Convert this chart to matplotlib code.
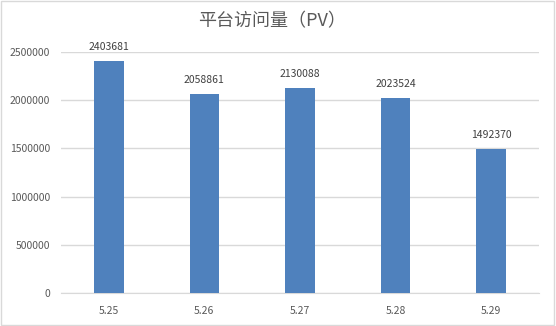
import matplotlib
matplotlib.use("Agg")
import matplotlib.pyplot as plt
from matplotlib.patches import Rectangle

plt.rcParams['font.family'] = ['Noto Sans CJK SC', 'DejaVu Sans']

categories = ["5.25", "5.26", "5.27", "5.28", "5.29"]
values = [2403681, 2058861, 2130088, 2023524, 1492370]
yticks = [0, 500000, 1000000, 1500000, 2000000, 2500000]
title = "平台访问量（PV）"

fig = plt.figure(figsize=(5.56, 3.26), dpi=100)
fig.patch.set_facecolor("white")
fig.add_artist(Rectangle((0.002, 0.003), 0.995, 0.994, transform=fig.transFigure,
                         fill=False, edgecolor="#D9D9D9", linewidth=1.0))

ax = fig.add_axes([61 / 556, 0.101, 478 / 556, 0.740])
x = range(len(categories))
bars = ax.bar(x, values, width=0.31, color="#4F81BD", zorder=3)
ax.set_xlim(-0.5, len(categories) - 0.5)
ax.set_ylim(0, 2500000)
ax.set_yticks(yticks)
ax.set_yticklabels([str(t) for t in yticks])
ax.set_xticks(list(x))
ax.set_xticklabels(categories)
ax.grid(axis="y", color="#D9D9D9", linewidth=1.0, zorder=0)
for s in ["top", "right", "left"]:
    ax.spines[s].set_visible(False)
ax.spines["bottom"].set_color("#D9D9D9")
ax.tick_params(axis="both", length=0, labelsize=7.5, colors="#595959")
ax.tick_params(axis="x", pad=9)
ax.tick_params(axis="y", pad=8)
for b, v in zip(bars, values):
    ax.annotate(str(v), (b.get_x() + b.get_width() / 2, v), xytext=(0, 6.5),
                textcoords="offset points", ha="center", va="bottom",
                fontsize=7.5, color="#404040")
fig.text(0.49, 0.936, title, ha="center", va="center", fontsize=13, color="#595959")
fig.savefig("out.png", dpi=100)
